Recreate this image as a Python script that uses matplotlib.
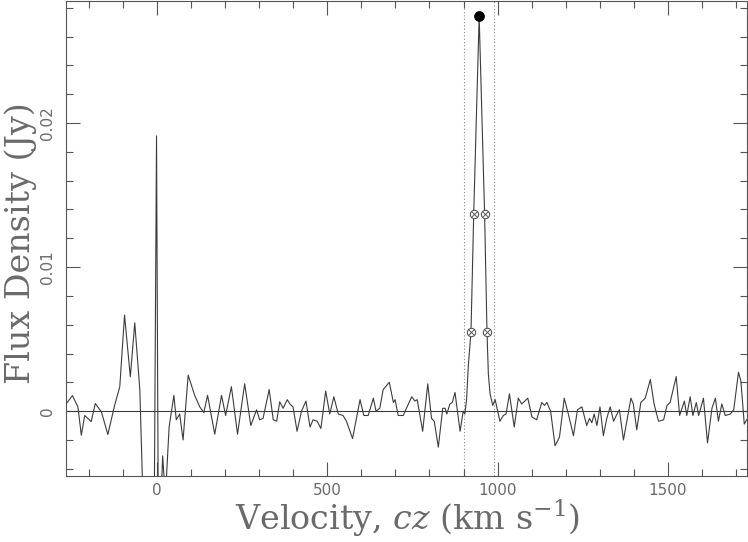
import matplotlib
matplotlib.use("Agg")
import matplotlib.pyplot as plt
from matplotlib.ticker import MultipleLocator

plt.rcParams["mathtext.fontset"] = "dejavuserif"

# ---- data ----
velocity = [
    -267, -249, -233, -223, -213, -194, -182, -164, -145, -125, -110, -96, -79, -66, -51, -42,
    -30, -18, -10, -2, 4, 10, 16, 24, 35, 49, 56, 66, 76, 91, 110, 125, 137, 148, 169, 189,
    201, 218, 236, 257, 275, 292, 301, 311, 329, 341, 351, 360, 370, 382, 390, 399, 411, 424,
    437, 449, 458, 470, 481, 495, 507, 519, 532, 546, 556, 574, 596, 607, 620, 635, 643, 654,
    664, 682, 694, 699, 708, 723, 738, 748, 757, 764, 780, 795, 806, 814, 826, 839, 846, 851,
    860, 867, 875, 890, 899, 904, 909, 914, 922, 930, 946, 962, 969, 973, 978, 986, 993, 1007,
    1017, 1025, 1035, 1049, 1061, 1071, 1089, 1101, 1115, 1130, 1138, 1145, 1156, 1169, 1182,
    1196, 1208, 1223, 1235, 1248, 1262, 1270, 1277, 1284, 1292, 1301, 1311, 1321, 1331, 1341,
    1349, 1358, 1370, 1380, 1392, 1399, 1409, 1421, 1434, 1449, 1460, 1473, 1488, 1498, 1507,
    1525, 1535, 1549, 1556, 1566, 1574, 1584, 1591, 1605, 1617, 1630, 1640, 1649, 1659, 1669,
    1684, 1694, 1708, 1715, 1725, 1737,
]
flux = [
    0.00053, 0.00108, 0.00030, -0.00167, -0.00030, -0.00072, 0.00053, -0.00005, -0.00162,
    0.00042, 0.00169, 0.00667, 0.00238, 0.00613, 0.00146, -0.0060,
    -0.0080, -0.0075, -0.0120, 0.0191, -0.0120, -0.0070, -0.0031, -0.0060, -0.0011, 0.0011,
    -0.0006, -0.0002, -0.0020, 0.0025, 0.0011, 0.0003, -0.0001, 0.0011, -0.0016, 0.0011,
    -0.0003, 0.0017, -0.0016, 0.0019, -0.0010, 0.0001, -0.0006, -0.0005, 0.0015, -0.0006,
    -0.0007, 0.00065, 0.0002, 0.0008, 0.0005, 0.0003, -0.0014, 0.0000,
    0.0007, -0.0011, -0.0006, -0.0007, -0.0012, 0.0014, -0.0002, 0.0010, -0.0002, -0.0003,
    -0.0007, -0.0019, 0.0008, -0.0003, -0.0003, 0.0009, 0.0000, 0.0002,
    0.0015, 0.0020, 0.0006, 0.0008, -0.0003, -0.0003, 0.0005, 0.0010, 0.0007, 0.0008, -0.0014,
    0.0019, -0.0005, -0.0007, -0.0025, 0.0002, 0.0002, -0.0002,
    0.0005, 0.0006, 0.0013, -0.0014, 0.0000, -0.0002, 0.0008, 0.0031, 0.0055, 0.0137, 0.0274,
    0.0137, 0.0055, 0.0026, 0.0012, 0.0004, 0.0008, -0.0007,
    -0.0003, -0.0002, 0.0012, -0.0011, 0.0009, 0.0005, 0.0009, -0.0004, -0.0006, 0.0006, 0.0004,
    0.0006, 0.0000, -0.0024, -0.0018,
    0.0009, -0.0002, -0.0017, 0.0001, 0.0003, -0.0010, -0.0005, -0.0008, -0.0002, -0.0010,
    0.0003, -0.0017, -0.0005, 0.0003, -0.0007,
    -0.0003, 0.0001, -0.0020, -0.0007, 0.0009, 0.0005, -0.0013, 0.0006, 0.0009, 0.0022, 0.0005,
    -0.0007, -0.0006, 0.0004, 0.0006,
    0.0024, -0.0003, 0.0007, -0.0003, 0.0010, -0.0003, 0.0006, -0.0003, 0.0009, -0.0022, 0.0002,
    0.0009, -0.0007, 0.0005, -0.0003,
    -0.0002, 0.0001, 0.0027, 0.0021, -0.0009, -0.0004,
]

peak_v = [946]
peak_f = [0.0274]
w50_v = [930, 962]
w50_f = [0.0137, 0.0137]
w20_v = [922, 969]
w20_f = [0.00548, 0.00548]
window_v = [902, 990]

xlim = (-268, 1733)
ylim = (-0.0045, 0.0285)
xticks = [0, 500, 1000, 1500]
yticks = [0, 0.01, 0.02]
ytick_labels = ["0", "0.01", "0.02"]

# ---- figure ----
fig = plt.figure(figsize=(7.48, 5.42), dpi=100)
ax = fig.add_axes([66 / 748, 1 - 476 / 542, (747 - 66) / 748, 475.5 / 542])

line_col = "#3c3c3c"
txt_col = "#6a6a6a"
frame_col = "#555555"

ax.plot(velocity, flux, color=line_col, lw=0.8, zorder=3)
ax.axhline(0, color=line_col, lw=0.8, zorder=2)
for v in window_v:
    ax.axvline(v, color="#888888", lw=0.8, ls=(0, (1, 2)), zorder=1)

ax.scatter(peak_v, peak_f, s=45, color="black", zorder=5)
for vv, ff in ((w50_v, w50_f), (w20_v, w20_f)):
    ax.scatter(vv, ff, s=36, facecolors="white", edgecolors="#555555", linewidths=0.8, zorder=5)
    ax.scatter(vv, ff, s=14, marker="x", color="#555555", linewidths=0.7, zorder=6)

ax.set_xlim(*xlim)
ax.set_ylim(*ylim)
ax.set_xticks(xticks)
ax.set_yticks(yticks)
ax.set_yticklabels(ytick_labels)
ax.xaxis.set_minor_locator(MultipleLocator(100))
ax.yaxis.set_minor_locator(MultipleLocator(0.002))

ax.tick_params(which="both", direction="in", top=True, right=True, colors=frame_col,
               labelcolor=txt_col, labelsize=11, width=0.8)
ax.tick_params(which="major", length=10)
ax.tick_params(which="minor", length=5)
ax.tick_params(axis="x", which="major", pad=5)
ax.tick_params(axis="y", which="major", pad=8)
for lab in ax.get_yticklabels():
    lab.set_rotation(90)
    lab.set_va("center")
for sp in ax.spines.values():
    sp.set_color(frame_col)
    sp.set_linewidth(0.8)

serif = ["DejaVu Serif"]
ax.set_xlabel(r"Velocity, $cz$ (km s$^{-1}$)", fontsize=24, color=txt_col,
              family=serif, fontweight="light", va="center")
ax.set_ylabel("Flux Density (Jy)", fontsize=24, color=txt_col, family=serif,
              fontweight="light", va="center")
ax.xaxis.set_label_coords((408 - 66) / 681, -(518 - 476) / 475.5)
ax.yaxis.set_label_coords(-(66 - 21) / 681, 0.49)

fig.savefig("out.png", dpi=100)
